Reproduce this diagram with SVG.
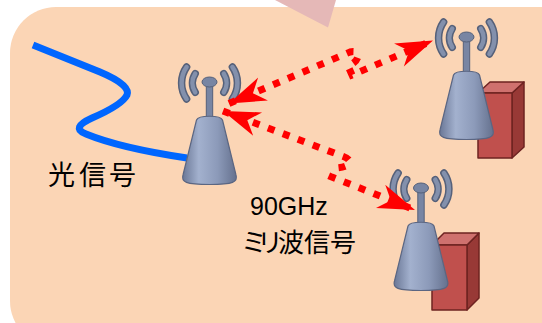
<svg xmlns="http://www.w3.org/2000/svg" xmlns:xlink="http://www.w3.org/1999/xlink" width="542" height="323" viewBox="0 0 542 323">
  <style>
    .panel { fill: #FBD5B5; }
    .pointer { fill: #E5B8B7; }
    .fiber { fill: none; stroke: #0066FF; stroke-width: 7; }
    .radio { fill: none; stroke: #FF0000; stroke-width: 7; stroke-dasharray: 7 9; }
    .label { font-family: "Noto Sans CJK JP", "Liberation Sans", sans-serif; font-size: 27px; fill: #000; }
    .small { font-size: 26px; }
    .freq { font-family: "Liberation Sans", Arial, sans-serif; font-size: 25px; fill: #000; }
    .bfront { fill: #C0504D; stroke: #6E2321; stroke-width: 1.5; stroke-linejoin: round; }
    .bside { fill: #983936; stroke: #6E2321; stroke-width: 1.5; stroke-linejoin: round; }
    .btop { fill: #CF716E; stroke: #6E2321; stroke-width: 1.5; stroke-linejoin: round; }
    .wave-o { fill: none; stroke: #56617A; stroke-width: 7.5; stroke-linecap: round; }
    .wave-i { fill: none; stroke: #8390AC; stroke-width: 4.5; stroke-linecap: round; }
  </style>
  <defs>
    <linearGradient id="bodyShade" x1="0" y1="0" x2="1" y2="0">
      <stop offset="0" stop-color="#6A7796"/>
      <stop offset="0.3" stop-color="#A3B1CE"/>
      <stop offset="0.65" stop-color="#8C9AB9"/>
      <stop offset="1" stop-color="#65718E"/>
    </linearGradient>
    <marker id="head" viewBox="-40 -14 42 28" refX="0" refY="0" markerWidth="42" markerHeight="28" markerUnits="userSpaceOnUse" orient="auto-start-reverse">
      <path d="M 0 0 L -37 -12.5 L -26 0 L -37 12.5 Z" fill="#FF0000"/>
    </marker>
    <!-- antenna icon, origin at the knob on top of the mast -->
    <g id="antenna">
      <path class="wave-o" d="M -22.9 -15 A 28 28 0 0 0 -22.9 17 M 22.9 -15 A 28 28 0 0 1 22.9 17 M -14.3 -8.3 A 17 17 0 0 0 -14.3 10.3 M 14.3 -8.3 A 17 17 0 0 1 14.3 10.3"/>
      <path class="wave-i" d="M -22.9 -15 A 28 28 0 0 0 -22.9 17 M 22.9 -15 A 28 28 0 0 1 22.9 17 M -14.3 -8.3 A 17 17 0 0 0 -14.3 10.3 M 14.3 -8.3 A 17 17 0 0 1 14.3 10.3"/>
      <rect x="-3.2" y="0" width="6.4" height="38" rx="2" fill="#7885A3" stroke="#56617A" stroke-width="1"/>
      <ellipse cx="0" cy="0" rx="7.5" ry="5" fill="#7885A3" stroke="#56617A" stroke-width="1"/>
      <path d="M -13 38 C -11 33 11 33 13 38 L 26.5 93 C 28.5 100 24 102.5 0 102.5 C -24 102.5 -28.5 100 -26.5 93 Z" fill="url(#bodyShade)" stroke="#5B6682" stroke-width="1.2"/>
    </g>
  </defs>

  <!-- background panel and callout pointer -->
  <rect class="panel" x="10" y="7" width="580" height="340" rx="46"/>
  <polygon class="pointer" points="275,0 336,0 328,27.5"/>

  <!-- optical fiber -->
  <path class="fiber" d="M 33 45 L 100 72 Q 131 85 127 95 Q 122 105 92 118 Q 70 128 86 134 Q 120 148 187 158"/>

  <!-- buildings -->
  <g id="building-1">
    <polygon class="bside" points="512,93 524,82 524,147 512,158"/>
    <polygon class="btop" points="478,93 490,82 524,82 512,93"/>
    <rect class="bfront" x="478" y="93" width="34" height="65"/>
  </g>
  <g id="building-2">
    <polygon class="bside" points="467,245 479,233 479,298 467,310"/>
    <polygon class="btop" points="432,245 444,233 479,233 467,245"/>
    <rect class="bfront" x="432" y="245" width="35" height="65"/>
  </g>

  <!-- antennas -->
  <g id="antenna-base"><use xlink:href="#antenna" transform="translate(209.5,82)"/></g>
  <g id="antenna-remote-1"><use xlink:href="#antenna" transform="translate(466.5,37)"/></g>
  <g id="antenna-remote-2"><use xlink:href="#antenna" transform="translate(421,188)"/></g>

  <!-- millimetre-wave links -->
  <g id="links">
    <path class="radio" marker-start="url(#head)" marker-end="url(#head)" d="M 229 103.5 L 350 52 C 361 49 361 61 348 66 L 352 75 L 433 40.5"/>
    <path class="radio" marker-start="url(#head)" marker-end="url(#head)" d="M 223 111 L 342 156 C 354 160 352 167 336 168 L 332 177 L 415 210"/>
  </g>

  <!-- labels -->
  <text class="label" x="48 79 109" y="185">光信号</text>
  <text class="freq" x="250" y="214.5">90GHz</text>
  <text class="label small" x="241 257 278 304 330" y="251.5">ミリ波信号</text>
</svg>
